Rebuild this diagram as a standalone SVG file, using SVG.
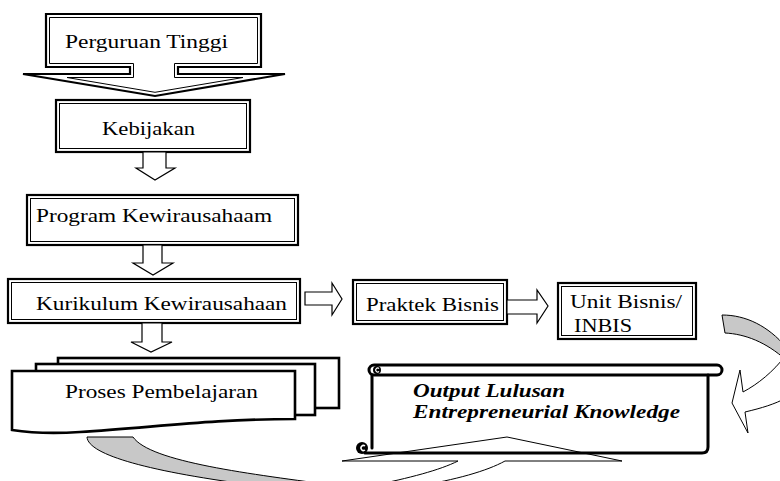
<svg xmlns="http://www.w3.org/2000/svg" width="780" height="481" viewBox="0 0 780 481">
<style>
.o{fill:#fff;stroke:#000;stroke-width:2.2}
.i{fill:none;stroke:#000;stroke-width:1}
.t{font-family:"Liberation Serif","Times New Roman",serif;font-size:19px;fill:#000}
.bi{font-family:"Liberation Serif","Times New Roman",serif;font-size:18.5px;font-weight:bold;font-style:italic;fill:#000}
.ha{fill:#fff;stroke:#000;stroke-width:1.2;stroke-linejoin:miter}
.g{fill:#c8c8c8;stroke:#000;stroke-width:1}
.w{fill:#fff;stroke:#000;stroke-width:1}
.doc{fill:#fff;stroke:#000;stroke-width:2.6}
.sc{fill:none;stroke:#000;stroke-width:3;stroke-linecap:round}
</style>
<rect width="780" height="481" fill="#fff"/>

<g id="node-perguruan">
<path class="o" d="M46,14 H261 V67 H178 V74 H285 L155,96 L23,74 H130 V67 H46 Z"/>
<path class="i" d="M49.5,17.5 H257.5 V63.5 H174.5 V77.5 H243 L155,92.3 L67,77.5 H133.5 V63.5 H49.5 Z"/>
<text class="t" x="65" y="48" textLength="163" lengthAdjust="spacingAndGlyphs">Perguruan Tinggi</text>
</g>

<g id="node-kebijakan">
<rect class="o" x="56" y="100" width="194" height="52"/>
<rect class="i" x="59.5" y="103.5" width="187" height="45"/>
<text class="t" x="102" y="135" textLength="93" lengthAdjust="spacingAndGlyphs">Kebijakan</text>
</g>

<g id="node-program">
<rect class="o" x="27" y="195" width="271" height="50"/>
<rect class="i" x="30.5" y="198.5" width="264" height="43"/>
<text class="t" x="36" y="222" textLength="236" lengthAdjust="spacingAndGlyphs">Program Kewirausahaam</text>
</g>

<g id="node-kurikulum">
<rect class="o" x="8" y="279" width="292" height="44"/>
<rect class="i" x="11.5" y="282.5" width="285" height="37"/>
<text class="t" x="36" y="310" textLength="251" lengthAdjust="spacingAndGlyphs">Kurikulum Kewirausahaan</text>
</g>

<g id="node-praktek">
<rect class="o" x="353" y="280" width="154" height="44"/>
<rect class="i" x="356.5" y="283.5" width="147" height="37"/>
<text class="t" x="366" y="311" textLength="133" lengthAdjust="spacingAndGlyphs">Praktek Bisnis</text>
</g>

<g id="node-unit">
<rect class="o" x="558" y="283" width="138" height="56"/>
<rect class="i" x="561.5" y="286.5" width="131" height="49"/>
<text class="t" x="570" y="308" textLength="112" lengthAdjust="spacingAndGlyphs">Unit Bisnis/</text>
<text class="t" x="574" y="332" textLength="58" lengthAdjust="spacingAndGlyphs">INBIS</text>
</g>

<g id="node-proses">
<rect class="doc" x="58" y="358" width="281" height="50"/>
<rect class="doc" x="36" y="364" width="279" height="51"/>
<path class="doc" d="M12,371 H295 V419 C210,419 150,428 80,432 C50,434 25,432 12,430 Z"/>
<text class="t" x="65" y="398" textLength="193" lengthAdjust="spacingAndGlyphs">Proses Pembelajaran</text>
</g>

<g id="node-output-bg">
<rect x="371" y="372" width="337" height="81" fill="#fff"/>
</g>

<g id="connectors">
<path class="ha" d="M143,152 H166 V168 H175 L155,180 L136,168 H143 Z"/>
<path class="ha" d="M143,245 H162 V263 H173 L153,275 L133,263 H143 Z"/>
<path class="ha" d="M142,323 H162 V342 H172 L151,352 L131,342 H142 Z"/>
<path class="ha" d="M305,292 H332 V283 L342,299 L332,315 V305 H305 Z"/>
<path class="ha" d="M507,300 H537 V290 L548,306 L537,323 V314 H507 Z"/>
<g id="curved-left-arrow">
<path class="g" d="M722,315 C746,315 768,326 786,347 L786,360 C766,342 745,334 725,333 Z"/>
<path class="w" d="M786,355 C773,372 758,384 743,392 L740,370 L732,403 L748,433 L745,412 C762,408 775,404 786,398 Z"/>
</g>
<g id="curved-up-arrow">
<path class="g" d="M87,437 C88,455 150,472 260,486 L340,486 C250,474 150,462 133,437 Z"/>
<path class="w" d="M370,486 C410,478 440,470 458,461 H342 L507,437 L622,461 H505 C487,471 455,480 417,486 Z"/>
</g>
</g>

<g id="node-output">
<rect x="369" y="365" width="353" height="10" rx="5" fill="#fff" stroke="#000" stroke-width="3"/>
<line class="sc" x1="372" y1="375" x2="372" y2="448"/>
<path class="sc" d="M708,375 V447 Q708,453 702,453 H365"/>
<circle cx="377" cy="370" r="4" fill="#000"/>
<path d="M379,368.5 A2,2 0 1 0 379,371.5" fill="none" stroke="#fff" stroke-width="1.2"/>
<circle cx="362" cy="448" r="6" fill="#000"/>
<path d="M365,446 A2.5,2.5 0 1 0 365,450" fill="none" stroke="#fff" stroke-width="1.5"/>
<text class="bi" x="413" y="397" textLength="152" lengthAdjust="spacingAndGlyphs">Output Lulusan</text>
<text class="bi" x="413" y="418" textLength="267" lengthAdjust="spacingAndGlyphs">Entrepreneurial Knowledge</text>
</g>
</svg>
